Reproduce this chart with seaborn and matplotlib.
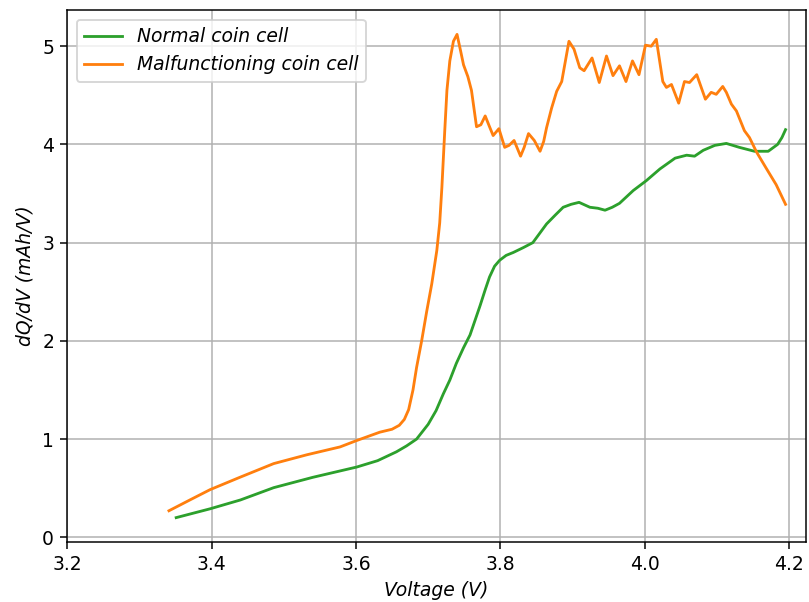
import numpy as np
import pandas as pd
import matplotlib
matplotlib.use('Agg')
import matplotlib.pyplot as plt
import seaborn as sns

# Normal coin cell (green)
v_normal = [3.351, 3.398, 3.440, 3.486, 3.540, 3.601, 3.630, 3.656, 3.670, 3.684, 3.700,
            3.711, 3.721, 3.730, 3.739, 3.749, 3.758, 3.765, 3.772, 3.779, 3.785, 3.792,
            3.799, 3.808, 3.818, 3.832, 3.845, 3.854, 3.864, 3.876, 3.887, 3.898,
            3.909, 3.918, 3.924, 3.935, 3.945, 3.955, 3.965, 3.984, 4.002, 4.021, 4.042, 4.058,
            4.069, 4.081, 4.097, 4.113, 4.131, 4.152, 4.171, 4.184, 4.190, 4.195]
q_normal = [0.20, 0.29, 0.38, 0.505, 0.61, 0.715, 0.78, 0.87, 0.93, 1.00, 1.15,
            1.29, 1.46, 1.60, 1.77, 1.93, 2.06, 2.21, 2.36, 2.52, 2.65, 2.76,
            2.82, 2.87, 2.90, 2.95, 3.00, 3.09, 3.19, 3.28, 3.36, 3.39,
            3.41, 3.38, 3.36, 3.35, 3.33, 3.36, 3.40, 3.53, 3.63, 3.75, 3.86, 3.89,
            3.88, 3.94, 3.99, 4.01, 3.97, 3.93, 3.93, 4.00, 4.07, 4.15]

# Malfunctioning coin cell (orange)
v_bad = [3.341, 3.370, 3.398, 3.439, 3.486, 3.532, 3.578, 3.601, 3.633, 3.650, 3.660, 3.667,
         3.673, 3.679, 3.684, 3.691, 3.698, 3.705, 3.712, 3.716, 3.719, 3.723, 3.726, 3.730,
         3.735, 3.740, 3.745, 3.749, 3.755, 3.760,
         3.767, 3.773, 3.779, 3.785, 3.790, 3.798, 3.806, 3.812, 3.819, 3.828, 3.833, 3.839,
         3.847, 3.855, 3.860, 3.864, 3.871, 3.878,
         3.885, 3.895, 3.902, 3.910, 3.916, 3.927, 3.937, 3.947, 3.956, 3.965, 3.974, 3.983,
         3.992, 4.001, 4.009, 4.016, 4.025, 4.030, 4.037, 4.047, 4.055, 4.062, 4.072,
         4.084, 4.092, 4.099, 4.108, 4.113, 4.120, 4.127, 4.138, 4.145, 4.155, 4.168,
         4.182, 4.195]
q_bad = [0.27, 0.38, 0.485, 0.61, 0.75, 0.84, 0.92, 0.985, 1.07, 1.10, 1.14, 1.20,
         1.30, 1.50, 1.73, 2.00, 2.30, 2.58, 2.92, 3.20, 3.56, 4.14, 4.55, 4.85,
         5.05, 5.12, 4.95, 4.81, 4.69, 4.55,
         4.18, 4.20, 4.29, 4.18, 4.09, 4.16, 3.97, 3.99, 4.04, 3.88, 3.97, 4.11,
         4.04, 3.93, 4.03, 4.17, 4.37, 4.54,
         4.64, 5.05, 4.97, 4.78, 4.75, 4.88, 4.63, 4.90, 4.70, 4.80, 4.64, 4.85,
         4.71, 5.01, 5.00, 5.07, 4.64, 4.58, 4.61, 4.42, 4.64, 4.63, 4.71,
         4.46, 4.53, 4.51, 4.59, 4.53, 4.41, 4.34, 4.14, 4.07, 3.92, 3.76,
         3.59, 3.39]

dpi = 135
fig, ax = plt.subplots(figsize=(809 / dpi, 602 / dpi), dpi=dpi)
fig.subplots_adjust(left=0.083, right=0.996, bottom=0.100, top=0.983)

sns.lineplot(x=v_normal, y=q_normal, ax=ax, color='tab:green', estimator=None,
             sort=False, label='Normal coin cell')
sns.lineplot(x=v_bad, y=q_bad, ax=ax, color='tab:orange', estimator=None,
             sort=False, label='Malfunctioning coin cell')

ax.set_xlim(3.2, 4.223)
ax.set_xticks([3.2, 3.4, 3.6, 3.8, 4.0, 4.2])
ax.set_xlabel('Voltage (V)', style='italic')
ax.set_ylabel('dQ/dV (mAh/V)', style='italic')
ax.grid(True)
ax.legend(loc='upper left', prop={'style': 'italic'})

plt.savefig('out.png')
